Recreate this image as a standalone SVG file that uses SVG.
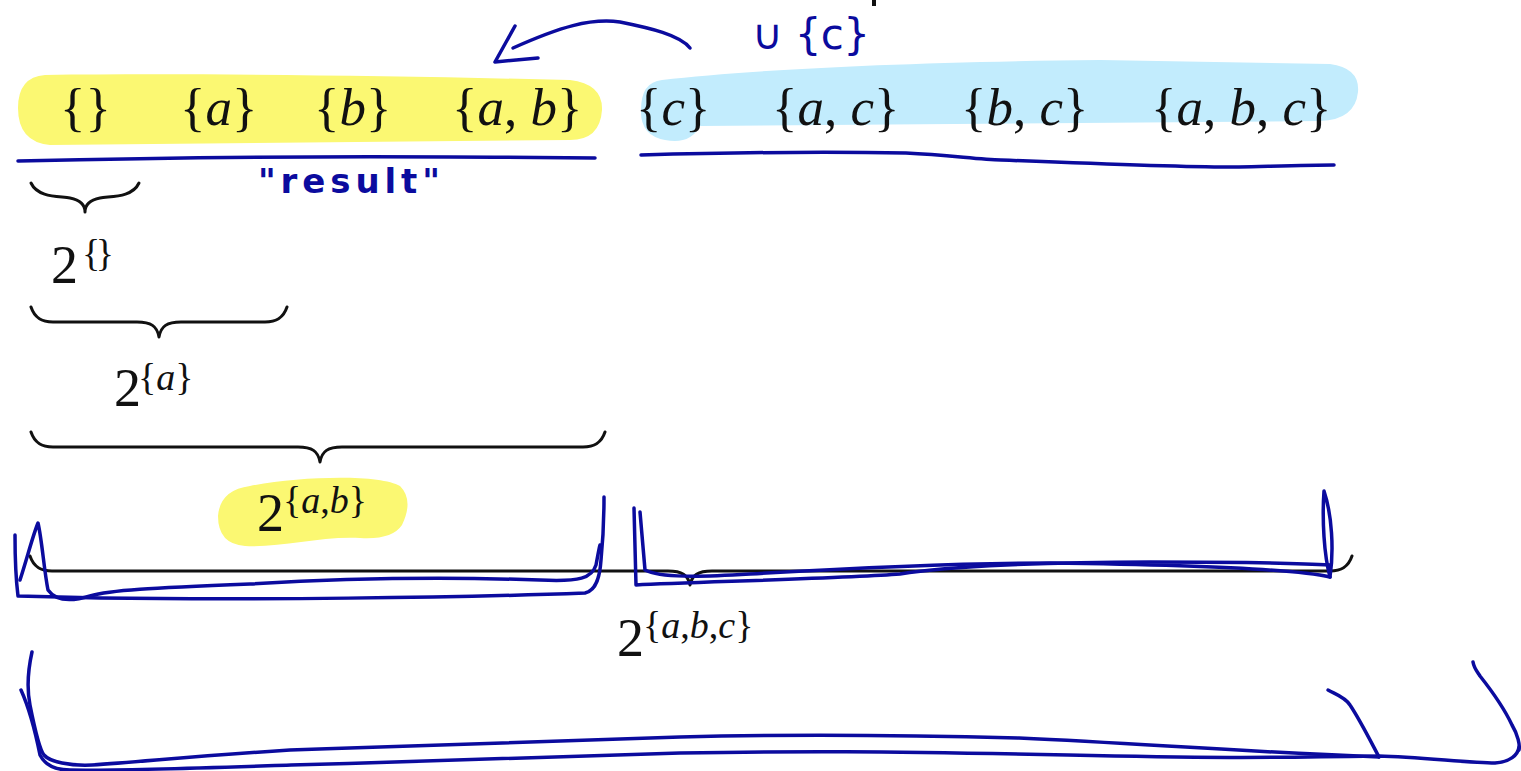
<svg xmlns="http://www.w3.org/2000/svg" width="1521" height="771" viewBox="0 0 1521 771">
<style>
.m{font-family:"Liberation Serif","DejaVu Serif",serif;font-size:53px;fill:#111}
.n{font-family:"Liberation Serif","DejaVu Serif",serif;font-size:54px;fill:#111}
.s{font-family:"Liberation Serif","DejaVu Serif",serif;font-size:38px;fill:#111}
.i{font-style:italic}
.br{fill:none;stroke:#111;stroke-width:3;stroke-linecap:round;stroke-linejoin:round}
.ink{fill:none;stroke:#0b0b9e;stroke-width:3.5;stroke-linecap:round;stroke-linejoin:round}
.inkt{font-family:"DejaVu Sans",sans-serif;fill:#0b0b9e}
</style>
<rect width="1521" height="771" fill="#fff"/>
<g id="highlights">
<path d="M45,75 C200,73 400,76 570,80 Q603,84 602,110 Q600,140 570,140 L50,145 Q18,142 18,108 Q18,77 45,75 Z" fill="#fbf872"/>
<path d="M662,80 C750,70 900,62 1100,60 L1330,64 Q1360,68 1358,92 Q1355,120 1320,121 L700,126 Q690,145 665,140 Q640,135 641,110 Q641,82 662,80 Z" fill="#c2ecfd"/>
<path d="M250,486 C300,476 380,474 400,486 Q414,500 402,525 Q392,540 360,538 C320,536 280,548 245,546 Q218,544 218,516 Q220,490 250,486 Z" fill="#fbf872"/>
</g>
<g id="row-yellow">
<text class="m" x="60" y="125">{}</text>
<text class="m" x="180" y="125">{<tspan class="i">a</tspan>}</text>
<text class="m" x="314" y="125">{<tspan class="i">b</tspan>}</text>
<text class="m" x="452" y="125">{<tspan class="i">a</tspan>, <tspan class="i">b</tspan>}</text>
</g>
<g id="row-blue">
<text class="m" x="636" y="125">{<tspan class="i">c</tspan>}</text>
<text class="m" x="772" y="125">{<tspan class="i">a</tspan>, <tspan class="i">c</tspan>}</text>
<text class="m" x="961" y="125">{<tspan class="i">b</tspan>, <tspan class="i">c</tspan>}</text>
<text class="m" x="1151" y="125">{<tspan class="i">a</tspan>, <tspan class="i">b</tspan>, <tspan class="i">c</tspan>}</text>
</g>
<g id="braces">
<path class="br" d="M31,183 C38,198 60,196 70,198 C80,200 85,205 85,212 C85,205 90,200 100,198 C110,196 132,198 139,183"/>
<path class="br" d="M31,307 C35,319 43,322 53,322 L137,322 C151,322 157,326 159,337 C161,326 167,322 181,322 L265,322 C275,322 283,319 287,307"/>
<path class="br" d="M31,432 C35,444 43,447 53,447 L298,447 C312,447 318,451 320,462 C322,451 328,447 342,447 L583,447 C593,447 601,444 605,432"/>
<path class="br" d="M30,556 C34,568 42,571 52,571 L668,571 C682,571 688,575 690,585 C692,575 698,571 712,571 L1330,571 C1340,571 1348,568 1352,556"/>
</g>
<g id="labels">
<text class="n" x="51" y="283">2</text><text class="s" x="82" y="266" textLength="32" lengthAdjust="spacing">{}</text>
<text class="n" x="114" y="406">2</text><text class="s" x="138" y="390">{<tspan class="i">a</tspan>}</text>
<text class="n" x="257" y="531">2</text><text class="s" x="283" y="513">{<tspan class="i">a</tspan>,<tspan class="i">b</tspan>}</text>
<text class="n" x="617" y="656">2</text><text class="s" x="643" y="638">{<tspan class="i">a</tspan>,<tspan class="i">b</tspan>,<tspan class="i">c</tspan>}</text>
</g>
<g id="annotations">
<text class="inkt" x="752" y="49" font-size="42" textLength="118" lengthAdjust="spacing">∪ {c}</text>
<text class="inkt" x="258" y="193" font-size="34" font-weight="bold" textLength="182" lengthAdjust="spacing">"result"</text>
<rect x="872" y="0" width="4" height="6" fill="#111"/>
</g>
<g id="connectors">
<path class="ink" d="M690,48 C680,35 650,28 620,22 C590,18 560,27 513,48"/>
<path class="ink" d="M515,26 L495,62 L538,58"/>
<path class="ink" d="M18,161 C150,158 300,156 450,157 C500,157 560,158 595,158"/>
<path class="ink" d="M641,155 C750,152 850,152 906,153 C950,155 980,160 1001,160 C1100,164 1200,168 1239,167 C1280,166 1310,165 1334,165"/>
<path class="ink" d="M15,535 C15,560 16,580 18,596 L100,598 C250,600 450,598 585,593 C597,590 600,575 601,560 C603,540 604,515 604,497"/>
<path class="ink" d="M20,580 C28,555 33,535 38,523 C42,540 44,570 48,590 C55,600 70,602 90,596 C110,590 150,588 250,584 C350,578 450,577 540,580 C580,582 592,578 596,565 C598,555 599,548 600,545"/>
<path class="ink" d="M634,508 L636,585 C700,582 850,578 900,574 C950,566 1050,562 1150,562 C1250,562 1300,563 1330,565"/>
<path class="ink" d="M640,512 L645,570 C660,578 700,577 750,574 C850,568 950,563 1050,563 C1200,565 1300,570 1330,577"/>
<path class="ink" d="M1330,577 C1324,555 1322,520 1324,491 C1332,515 1334,550 1330,577"/>
<path class="ink" d="M32,652 C28,670 27,690 30,705 C35,730 40,750 44,755 C50,762 70,766 92,765 C140,762 184,757 290,750 C400,746 500,744 680,737 C800,734 900,735 1019,738 C1150,744 1213,750 1379,757"/>
<path class="ink" d="M21,690 C30,710 37,740 40,755 C45,765 55,770 70,770 C117,771 200,768 291,765 C400,762 485,760 680,753 C800,751 874,751 1068,755 C1200,758 1262,758 1379,756 C1420,757 1470,763 1495,763 C1510,762 1518,755 1519,747"/>
<path class="ink" d="M1328,690 C1335,694 1345,697 1350,705 C1360,720 1370,740 1379,757"/>
<path class="ink" d="M1473,662 C1474,668 1476,670 1480,676 C1495,695 1505,710 1512,725 C1518,735 1520,745 1519,750"/>
</g>
</svg>
